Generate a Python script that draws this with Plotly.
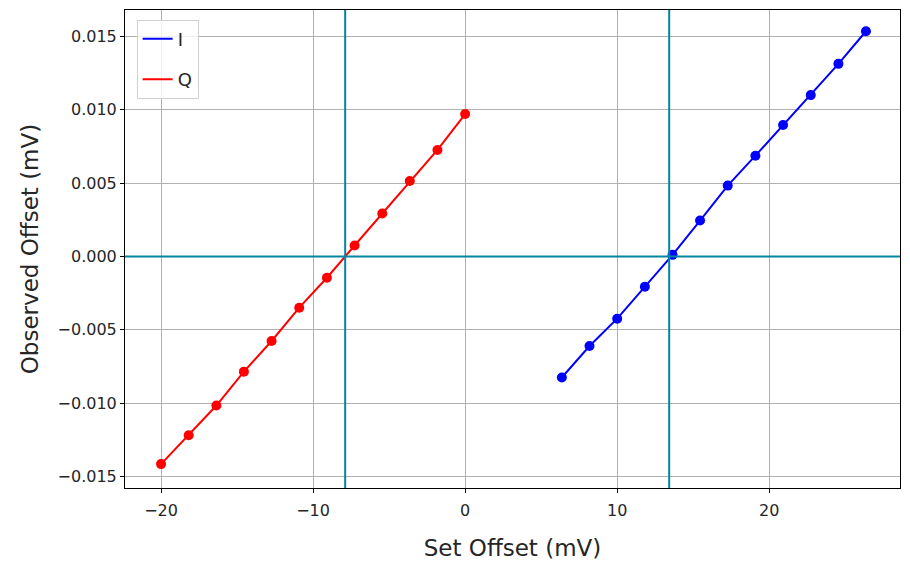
"""
IQ offset calibration plot: observed vs set offset for I and Q, with
the zero crossings marked.
"""

import plotly.graph_objects as go

# --- data ---
q_set = [-20.0, -18.18, -16.36, -14.55, -12.73, -10.91, -9.09, -7.27, -5.45, -3.64, -1.82, 0.0]
q_obs = [-0.01415, -0.01218, -0.01016, -0.00785, -0.00576, -0.00349, -0.00145,
         0.00075, 0.00293, 0.00515, 0.00726, 0.00971]

i_set = [6.36, 8.18, 10.0, 11.82, 13.64, 15.45, 17.27, 19.09, 20.91, 22.73, 24.55, 26.36]
i_obs = [-0.00825, -0.0061, -0.00424, -0.00206, 0.00011, 0.00245, 0.00483,
         0.00687, 0.00896, 0.0110, 0.01313, 0.01535]

q_zero = -7.89   # fitted zero crossing, Q
i_zero = 13.42   # fitted zero crossing, I

x_ticks = [-20, -10, 0, 10, 20]
y_ticks = [-0.015, -0.010, -0.005, 0.0, 0.005, 0.010, 0.015]

FONT = "DejaVu Sans, sans-serif"
TEXT = "#262626"
GRID = "#b0b0b0"
TEAL = "#0385a0"

fig = go.Figure()

for name, xs, ys, color in [("I", i_set, i_obs, "blue"), ("Q", q_set, q_obs, "red")]:
    fig.add_scatter(x=xs, y=ys, mode="lines", name=name, legendgroup=name,
                    line=dict(color=color, width=2))
    fig.add_scatter(x=xs, y=ys, mode="markers", name=name, legendgroup=name,
                    showlegend=False, marker=dict(color=color, size=10))

fig.add_vline(x=q_zero, line=dict(color=TEAL, width=2), layer="above")
fig.add_vline(x=i_zero, line=dict(color=TEAL, width=2), layer="above")
fig.add_hline(y=0, line=dict(color=TEAL, width=2), layer="above")

axis_common = dict(showline=True, linecolor="black", linewidth=1, mirror=True,
                   ticks="outside", ticklen=4, tickcolor="black",
                   showgrid=True, gridcolor=GRID, gridwidth=1, zeroline=False,
                   tickfont=dict(family=FONT, size=16, color=TEXT))

# page body adds an 8px offset, so the figure is sized to fit inside the window
fig.update_layout(
    width=894, height=555,
    paper_bgcolor="white", plot_bgcolor="white",
    margin=dict(l=117, r=2, t=2, b=75),
    font=dict(family=FONT, color=TEXT),
    xaxis=dict(range=[-22.37, 28.6], tickvals=x_ticks, ticklabelstandoff=4,
               title=dict(text="Set Offset (mV)", font=dict(size=23, color=TEXT), standoff=20),
               **axis_common),
    yaxis=dict(range=[-0.01578, 0.0168], tickvals=y_ticks, tickformat=".3f",
               title=dict(text="Observed Offset (mV)", font=dict(size=23, color=TEXT), standoff=12),
               **axis_common),
    legend=dict(x=0.015, y=0.98, xanchor="left", yanchor="top",
                bgcolor="rgba(255,255,255,0.8)", bordercolor="#d0d0d0", borderwidth=1,
                font=dict(family=FONT, size=18, color=TEXT), tracegroupgap=14,
                entrywidth=50, entrywidthmode="pixels"),
    showlegend=True,
)

fig.write_html("out.html")
